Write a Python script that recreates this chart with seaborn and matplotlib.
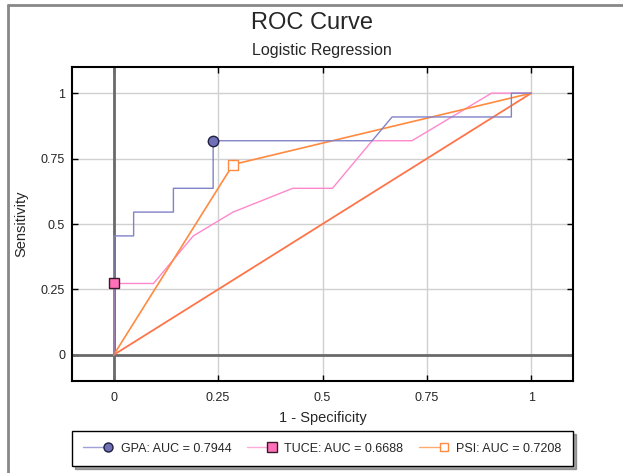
import matplotlib
matplotlib.use("Agg")
import matplotlib.pyplot as plt
import seaborn as sns
import pandas as pd
from matplotlib.lines import Line2D
from matplotlib.legend_handler import HandlerLine2D

# ---- data ----
gpa_fpr = [0, 0, 0.0476, 0.0476, 0.1429, 0.1429, 0.2381, 0.2381, 0.6190, 0.6667, 0.9524, 0.9524, 1.0]
gpa_tpr = [0, 0.4545, 0.4545, 0.5455, 0.5455, 0.6364, 0.6364, 0.8182, 0.8182, 0.9091, 0.9091, 1.0, 1.0]
tuce_fpr = [0, 0, 0.0952, 0.1905, 0.2857, 0.4286, 0.5238, 0.6190, 0.7143, 0.9048, 1.0]
tuce_tpr = [0, 0.2727, 0.2727, 0.4545, 0.5455, 0.6364, 0.6364, 0.8182, 0.8182, 1.0, 1.0]
psi_fpr = [0, 0.2857, 1.0]
psi_tpr = [0, 0.7273, 1.0]
ref_fpr = [0, 1]
ref_tpr = [0, 1]
# highlighted cutoff points
gpa_pt = (0.2381, 0.8182)
tuce_pt = (0.0, 0.2727)
psi_pt = (0.2857, 0.7273)
labels = ["GPA: AUC = 0.7944", "TUCE: AUC = 0.6688", "PSI: AUC = 0.7208"]
ticks = [0, 0.25, 0.5, 0.75, 1]
tick_labels = ["0", "0.25", "0.5", "0.75", "1"]

c_gpa = "#8282c8"
c_tuce = "#ff88cc"
c_psi = "#ff8a40"
c_ref = "#ff7448"

sns.set_theme(style="white")
plt.rcParams["font.family"] = ["Liberation Sans", "DejaVu Sans"]

fig = plt.figure(figsize=(6.23, 4.73), dpi=100)
ax = fig.add_axes([72 / 623, 1 - 381 / 473, 501 / 623, 314 / 473])

ax.set_xlim(-0.1, 1.1)
ax.set_ylim(-0.1, 1.1)
for t in ticks:
    ax.axvline(t, color="#d0d0d0", lw=1.0, zorder=0)
    ax.axhline(t, color="#d0d0d0", lw=1.0, zorder=0)
ax.axvline(0, color="#6a6a6a", lw=2, zorder=1)
ax.axhline(0, color="#6a6a6a", lw=2, zorder=1)

def draw(x, y, color, lw=1.0, z=3):
    df = pd.DataFrame({"x": x, "y": y})
    sns.lineplot(data=df, x="x", y="y", sort=False, estimator=None, color=color,
                 lw=lw, ax=ax, zorder=z)

draw(ref_fpr, ref_tpr, c_ref, lw=1.3, z=2)
draw(tuce_fpr, tuce_tpr, c_tuce, z=3)
draw(psi_fpr, psi_tpr, c_psi, lw=1.2, z=3)
draw(gpa_fpr, gpa_tpr, c_gpa, z=4)

ax.plot([gpa_pt[0]], [gpa_pt[1]], marker="o", ms=7.5, mfc="#7070b8", mec="#202040", mew=1, zorder=6)
ax.plot([tuce_pt[0]], [tuce_pt[1]], marker="s", ms=7.5, mfc="#ff70b8", mec="#3a1a2a", mew=1, zorder=6)
ax.plot([psi_pt[0]], [psi_pt[1]], marker="s", ms=7, mfc="white", mec=c_psi, mew=1, zorder=6)

ax.set_xticks(ticks)
ax.set_xticklabels(tick_labels)
ax.set_yticks(ticks)
ax.set_yticklabels(tick_labels)
ax.tick_params(axis="both", which="both", direction="in", length=4, width=1,
               color="black", labelsize=9, top=True, right=True, bottom=True, left=True, pad=5)
ax.tick_params(axis="x", pad=8)
for s in ax.spines.values():
    s.set_color("black")
    s.set_linewidth(1.5)
    s.set_visible(True)

ax.set_xlabel("1 - Specificity", fontsize=10.5, labelpad=5)
ax.set_ylabel("Sensitivity", fontsize=10.5, labelpad=9)

fig.text(312 / 623, 1 - 23 / 473, "ROC Curve", ha="center", va="center", fontsize=17)
fig.text(322 / 623, 1 - 50 / 473, "Logistic Regression", ha="center", va="center", fontsize=11.5)


class EndMarkerHandler(HandlerLine2D):
    def create_artists(self, legend, orig_handle, xdescent, ydescent, width, height, fontsize, trans):
        y = height / 2 - ydescent
        line = Line2D([-xdescent, width - xdescent], [y, y], color=orig_handle.get_color(), lw=1)
        line.set_transform(trans)
        mk = Line2D([width - xdescent], [y], linestyle="none", marker=orig_handle.get_marker(),
                    ms=orig_handle.get_markersize(), mfc=orig_handle.get_markerfacecolor(),
                    mec=orig_handle.get_markeredgecolor(), mew=1)
        mk.set_transform(trans)
        return [line, mk]


handles = [
    Line2D([0], [0], color="#a0a0d8", lw=1, marker="o", ms=6.5, mfc="#7070b8", mec="#202040"),
    Line2D([0], [0], color="#ffaad8", lw=1, marker="s", ms=6.5, mfc="#ff70b8", mec="#3a1a2a"),
    Line2D([0], [0], color="#ffaa70", lw=1, marker="s", ms=6, mfc="white", mec=c_psi),
]
leg = fig.legend(handles, labels, loc="center", ncol=3,
                 bbox_to_anchor=(72 / 623, 1 - 467 / 473, 501 / 623, 37 / 473),
                 mode="expand", frameon=True, fancybox=False, shadow=True,
                 fontsize=9, handlelength=2.0, handletextpad=1.0, borderaxespad=0,
                 borderpad=0.9, columnspacing=1.0,
                 handler_map={Line2D: EndMarkerHandler()})
leg.get_frame().set_edgecolor("black")
leg.get_frame().set_linewidth(1)
leg.get_frame().set_alpha(1)

# outer border (left & top)
fig.add_artist(Line2D([8 / 623, 8 / 623], [0, 1 - 5 / 473], color="#888888", lw=2, transform=fig.transFigure))
fig.add_artist(Line2D([8 / 623, 1], [1 - 5 / 473, 1 - 5 / 473], color="#888888", lw=2, transform=fig.transFigure))

fig.savefig("out.png", dpi=100, facecolor="white")
